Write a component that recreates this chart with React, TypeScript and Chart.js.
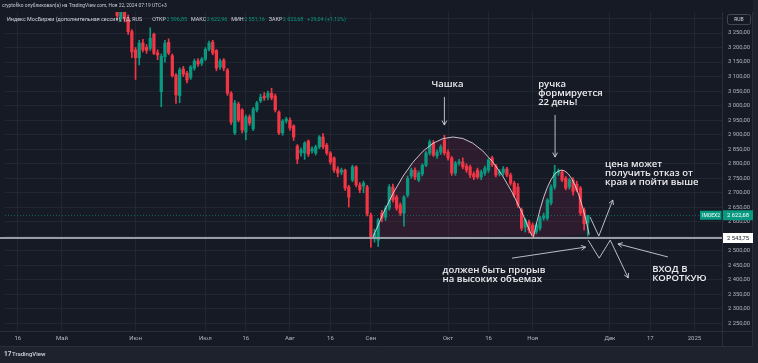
import React, { useEffect, useRef } from 'react';
import { Chart, registerables } from 'chart.js';

Chart.register(...registerables);

// ---------------- data ----------------
const START_DATE = '2024-04-11';
const BAR_COUNT = 195;
const HOLIDAYS = ['2024-05-01', '2024-05-09', '2024-05-10', '2024-06-12', '2024-11-04', '2025-01-01'];
const EXTRA_TRADING_DAYS = ['2024-04-27', '2024-11-02', '2024-12-28'];

const OPEN = [
  3440, 3448, 3433, 3440, 3425, 3430, 3455, 3448, 3475, 3470, 3460, 3450, 3462, 3470, 3478,
  3470, 3448, 3455, 3428, 3445, 3465, 3485, 3495, 3490, 3512, 3500, 3495, 3450, 3405, 3380,
  3350, 3300, 3330, 3298, 3255, 3192, 3165, 3216, 3200, 3197, 3246, 3182, 3048, 3168, 3218,
  3172, 3105, 3034, 3126, 3112, 3097, 3129, 3154, 3146, 3160, 3194, 3219, 3190, 3133, 3157,
  3123, 3043, 2906, 3005, 2985, 2909, 2961, 2920, 2985, 3016, 3033, 3029, 3043, 3033, 2978,
  2906, 2947, 2950, 2930, 2861, 2837, 2837, 2878, 2844, 2837, 2858, 2892, 2864, 2837, 2820,
  2782, 2771, 2778, 2720, 2744, 2789, 2727, 2723, 2720, 2623, 2545, 2537, 2630, 2616, 2647,
  2720, 2685, 2658, 2630, 2692, 2758, 2778, 2744, 2765, 2795, 2837, 2871, 2827, 2840, 2882,
  2840, 2820, 2768, 2802, 2806, 2792, 2789, 2765, 2778, 2754, 2768, 2778, 2820, 2792, 2765,
  2768, 2782, 2761, 2733, 2720, 2641, 2582, 2599, 2589, 2565, 2578, 2613, 2613, 2665, 2720,
  2768, 2771, 2750, 2720, 2744, 2730, 2716, 2641, 2596.85,
];
const HIGH = [
  3455, 3460, 3445, 3452, 3438, 3460, 3468, 3480, 3490, 3482, 3470, 3468, 3478, 3485, 3490,
  3475, 3460, 3462, 3450, 3470, 3490, 3500, 3510, 3520, 3520, 3515, 3500, 3455, 3415, 3390,
  3360, 3345, 3340, 3312, 3262, 3200, 3225, 3228, 3210, 3268, 3250, 3192, 3178, 3225, 3230,
  3178, 3110, 3130, 3135, 3118, 3138, 3160, 3162, 3166, 3200, 3222, 3225, 3193, 3160, 3162,
  3128, 3048, 3018, 3012, 2990, 2968, 2968, 2994, 3015, 3040, 3045, 3050, 3060, 3040, 2982,
  2952, 2960, 2958, 2934, 2866, 2855, 2876, 2882, 2858, 2864, 2897, 2904, 2870, 2842, 2824,
  2790, 2785, 2782, 2726, 2795, 2793, 2735, 2740, 2726, 2630, 2575, 2612, 2640, 2655, 2728,
  2730, 2692, 2665, 2690, 2758, 2785, 2786, 2775, 2800, 2842, 2882, 2880, 2848, 2865, 2898,
  2848, 2825, 2808, 2815, 2820, 2800, 2795, 2772, 2785, 2778, 2792, 2818, 2826, 2798, 2780,
  2790, 2788, 2768, 2740, 2732, 2648, 2612, 2606, 2596, 2595, 2620, 2630, 2680, 2727, 2795,
  2782, 2778, 2756, 2750, 2752, 2740, 2722, 2648, 2622.96,
];
const LOW = [
  3430, 3425, 3415, 3418, 3410, 3428, 3435, 3445, 3462, 3455, 3440, 3442, 3455, 3458, 3465,
  3440, 3430, 3420, 3415, 3440, 3460, 3470, 3480, 3485, 3490, 3480, 3440, 3395, 3370, 3340,
  3300, 3290, 3288, 3245, 3165, 3090, 3140, 3185, 3180, 3190, 3175, 3158, 2996, 3150, 3175,
  3098, 3008, 3010, 3100, 3078, 3090, 3122, 3135, 3138, 3155, 3188, 3175, 3120, 3125, 3120,
  3035, 2935, 2900, 2944, 2906, 2882, 2932, 2914, 2978, 3010, 3018, 3020, 3020, 2978, 2900,
  2898, 2940, 2915, 2880, 2800, 2826, 2815, 2825, 2836, 2830, 2852, 2852, 2830, 2798, 2770,
  2755, 2762, 2708, 2651, 2738, 2720, 2700, 2700, 2620, 2513, 2530, 2515, 2600, 2605, 2640,
  2668, 2640, 2622, 2585, 2685, 2750, 2745, 2738, 2758, 2790, 2830, 2825, 2818, 2832, 2830,
  2812, 2760, 2760, 2795, 2782, 2770, 2752, 2745, 2748, 2745, 2760, 2770, 2790, 2755, 2758,
  2760, 2755, 2726, 2685, 2650, 2570, 2565, 2562, 2544, 2558, 2570, 2605, 2606, 2658, 2712,
  2760, 2738, 2710, 2712, 2692, 2704, 2622, 2571, 2551.16,
];
const CLOSE = [
  3448, 3433, 3440, 3425, 3430, 3455, 3448, 3475, 3470, 3460, 3450, 3462, 3470, 3478, 3470,
  3448, 3455, 3428, 3445, 3465, 3485, 3495, 3490, 3512, 3500, 3495, 3450, 3405, 3380, 3350,
  3310, 3328, 3298, 3255, 3185, 3165, 3215, 3192, 3190, 3232, 3180, 3174, 3170, 3215, 3181,
  3103, 3037, 3123, 3109, 3088, 3133, 3153, 3143, 3160, 3194, 3215, 3181, 3129, 3153, 3129,
  3043, 2943, 3009, 2950, 2916, 2961, 2940, 2988, 3009, 3029, 3026, 3043, 3026, 2985, 2906,
  2947, 2954, 2923, 2892, 2816, 2847, 2871, 2833, 2851, 2858, 2892, 2858, 2837, 2806, 2778,
  2768, 2778, 2716, 2685, 2789, 2727, 2710, 2733, 2627, 2544, 2560, 2606, 2613, 2647, 2720,
  2675, 2647, 2630, 2685, 2750, 2778, 2754, 2768, 2795, 2837, 2875, 2830, 2840, 2858, 2837,
  2820, 2768, 2802, 2806, 2789, 2778, 2761, 2754, 2754, 2771, 2785, 2813, 2796, 2761, 2772,
  2782, 2761, 2733, 2692, 2658, 2578, 2606, 2572, 2555, 2589, 2613, 2620, 2675, 2720, 2771,
  2775, 2744, 2716, 2744, 2705, 2710, 2630, 2593.64, 2622.68,
];

const X_TICK_LABELS: [string, string][] = [
  ['2024-04-16', '16'], ['2024-05-02', 'Май'], ['2024-06-03', 'Июн'], ['2024-07-01', 'Июл'],
  ['2024-07-16', '16'], ['2024-08-01', 'Авг'], ['2024-08-16', '16'], ['2024-09-02', 'Сен'],
  ['2024-10-01', 'Окт'], ['2024-10-16', '16'], ['2024-11-01', 'Ноя'], ['2024-12-02', 'Дек'],
  ['2024-12-17', '17'], ['2025-01-02', '2025'],
];
const Y_TICKS = [2250, 2300, 2350, 2400, 2450, 2500, 2550, 2600, 2650, 2700, 2750, 2800, 2850, 2900, 2950, 3000, 3050, 3100, 3150, 3200, 3250, 3300];
const Y_HIDDEN_LABELS = [2550, 3300];
const Y_MIN = 2224.2;
const Y_MAX = 3322.3;
const LEVEL = 2543.75;

const TICKER = 'IMOEX2';
const TITLE = 'Индекс МосБиржи (дополнительная сессия), 1Д, RUS';
const HEADER = 'cryptofiko опубликовал(а) на TradingView.com, Ноя 22, 2024 07:19 UTC+3';

// annotations in (bar index, price) space
const CUP = { from: [99.6, 2548], peak: [121.3, 2892], to: [142.8, 2552] };
const HANDLE = { from: [143.2, 2546], peak: [150.8, 2778], to: [158.4, 2556] };
const ARROWS: number[][][] = [
  [[119.0, 3030], [119.0, 2933]],
  [[149.1, 2968], [149.1, 2823]],
  [[158.6, 2617], [161.0, 2551], [164.8, 2675]],
  [[158.1, 2537], [161.1, 2475], [164.1, 2537], [169.0, 2407]],
  [[137.4, 2475], [157.4, 2513]],
  [[179.8, 2479], [166.2, 2524]],
];
const NOTES: { at: number[]; lines: string[] }[] = [
  { at: [115.5, 3074], lines: ['Чашка'] },
  { at: [144.5, 3074], lines: ['ручка', 'формируется', '22 день!'] },
  { at: [162.7, 2799], lines: ['цена может', 'получить отказ от', 'края и пойти выше'] },
  { at: [118.5, 2434], lines: ['должен быть прорыв', 'на высоких объемах'] },
  { at: [175.5, 2437], lines: ['ВХОД В', 'КОРОТКУЮ'] },
];

// ---------------- style ----------------
const W = 758;
const H = 363;
const PANEL_BG = '#161a25';
const OUTER_BG = '#1e222d';
const GRID = 'rgba(42,46,57,0.6)';
const UP = '#089981';
const DOWN = '#f23645';
const TEXT = '#d1d4dc';
const AXIS_TEXT = '#b2b5be';
const FONT = 'Roboto, "Noto Sans", sans-serif';

function buildDates(): string[] {
  const out: string[] = [];
  const d = new Date(START_DATE + 'T00:00:00Z');
  while (out.length < BAR_COUNT) {
    const iso = d.toISOString().slice(0, 10);
    const dow = d.getUTCDay();
    const weekday = dow >= 1 && dow <= 5;
    if ((weekday && !HOLIDAYS.includes(iso)) || EXTRA_TRADING_DAYS.includes(iso)) out.push(iso);
    d.setUTCDate(d.getUTCDate() + 1);
  }
  return out;
}

function fmtPrice(v: number): string {
  return v.toFixed(2).replace('.', ',').replace(/\B(?=(\d{3})+(?!\d))/, ' ');
}

function arrowHead(ctx: CanvasRenderingContext2D, x0: number, y0: number, x1: number, y1: number) {
  const a = Math.atan2(y1 - y0, x1 - x0);
  const len = 5;
  const spread = 0.5;
  ctx.beginPath();
  ctx.moveTo(x1 - len * Math.cos(a - spread), y1 - len * Math.sin(a - spread));
  ctx.lineTo(x1, y1);
  ctx.lineTo(x1 - len * Math.cos(a + spread), y1 - len * Math.sin(a + spread));
  ctx.stroke();
}

export default function App() {
  const canvasRef = useRef<HTMLCanvasElement | null>(null);

  useEffect(() => {
    const canvas = canvasRef.current;
    if (!canvas) return;
    const dates = buildDates();
    const n = OPEN.length;
    const tickByIndex: Record<number, string> = {};
    X_TICK_LABELS.forEach(([d, l]) => {
      const i = dates.indexOf(d);
      if (i >= 0) tickByIndex[i] = l;
    });
    const colors = dates.map((_, i) => (i < n ? (CLOSE[i] >= OPEN[i] ? UP : DOWN) : UP));
    const bodies = dates.map((_, i) => (i < n ? [OPEN[i], CLOSE[i]] : null));
    const wicks = dates.map((_, i) => (i < n ? [LOW[i], HIGH[i]] : null));

    const px = (c: any, i: number) => c.scales.x.getPixelForValue(i);
    const py = (c: any, p: number) => c.scales.y.getPixelForValue(p);

    const arcPath = (c: any, ctx: CanvasRenderingContext2D, a: any) => {
      const cx = 2 * a.peak[0] - (a.from[0] + a.to[0]) / 2;
      const cy = 2 * a.peak[1] - (a.from[1] + a.to[1]) / 2;
      ctx.moveTo(px(c, a.from[0]), py(c, a.from[1]));
      ctx.quadraticCurveTo(px(c, cx), py(c, cy), px(c, a.to[0]), py(c, a.to[1]));
    };

    const plugin = {
      id: 'tvDecor',
      beforeDraw(c: any) {
        const ctx: CanvasRenderingContext2D = c.ctx;
        ctx.save();
        ctx.fillStyle = OUTER_BG;
        ctx.fillRect(0, 0, W, H);
        ctx.fillStyle = PANEL_BG;
        ctx.fillRect(0, 0, 753, 347);
        ctx.restore();
      },
      beforeDatasetsDraw(c: any) {
        const ctx: CanvasRenderingContext2D = c.ctx;
        const ca = c.chartArea;
        ctx.save();
        ctx.fillStyle = 'rgba(140,40,80,0.2)';
        [CUP, HANDLE].forEach((a) => {
          ctx.beginPath();
          arcPath(c, ctx, a);
          ctx.closePath();
          ctx.fill();
        });
        const yc = py(c, CLOSE[n - 1]);
        ctx.strokeStyle = 'rgba(8,153,129,0.55)';
        ctx.lineWidth = 1;
        ctx.setLineDash([1, 2]);
        ctx.beginPath();
        ctx.moveTo(ca.left, Math.round(yc) + 0.5);
        ctx.lineTo(ca.right, Math.round(yc) + 0.5);
        ctx.stroke();
        ctx.restore();
      },
      afterDatasetsDraw(c: any) {
        const ctx: CanvasRenderingContext2D = c.ctx;
        const ca = c.chartArea;
        ctx.save();
        ctx.strokeStyle = 'rgba(225,225,232,0.85)';
        ctx.lineWidth = 1;
        [CUP, HANDLE].forEach((a) => {
          ctx.beginPath();
          arcPath(c, ctx, a);
          ctx.stroke();
        });
        const yl = Math.round(py(c, LEVEL));
        ctx.strokeStyle = 'rgba(160,163,172,0.95)';
        ctx.lineWidth = 2;
        ctx.beginPath();
        ctx.moveTo(ca.left - 5, yl);
        ctx.lineTo(ca.right, yl);
        ctx.stroke();
        ctx.restore();
      },
      afterDraw(c: any) {
        const ctx: CanvasRenderingContext2D = c.ctx;
        const ca = c.chartArea;
        ctx.save();
        ctx.strokeStyle = '#2a2e39';
        ctx.lineWidth = 1;
        ctx.beginPath();
        ctx.moveTo(ca.right + 0.5, 12);
        ctx.lineTo(ca.right + 0.5, 347);
        ctx.moveTo(0, ca.bottom + 0.5);
        ctx.lineTo(753, ca.bottom + 0.5);
        ctx.moveTo(752.5, 12);
        ctx.lineTo(752.5, 347);
        ctx.moveTo(0, 346.5);
        ctx.lineTo(753, 346.5);
        ctx.stroke();

        ctx.strokeStyle = 'rgba(215,216,222,0.85)';
        ctx.lineWidth = 1;
        ARROWS.forEach((pts) => {
          const p = pts.map(([i, v]) => [px(c, i), py(c, v)]);
          ctx.beginPath();
          p.forEach(([x, y], k) => (k === 0 ? ctx.moveTo(x, y) : ctx.lineTo(x, y)));
          ctx.stroke();
          const a = p[p.length - 2];
          const b = p[p.length - 1];
          arrowHead(ctx, a[0], a[1], b[0], b[1]);
        });

        ctx.fillStyle = '#ececef';
        ctx.font = `600 9.5px "Open Sans", ${FONT}`;
        ctx.textBaseline = 'middle';
        ctx.textAlign = 'left';
        NOTES.forEach((nt) => {
          const x = px(c, nt.at[0]);
          const y = py(c, nt.at[1]);
          nt.lines.forEach((l, k) => ctx.fillText(l, x, y + k * 9.3));
        });

        const yl = Math.round(py(c, LEVEL));
        ctx.fillStyle = '#ffffff';
        ctx.fillRect(ca.right + 1, yl - 5, 30, 10);
        ctx.fillStyle = '#131722';
        ctx.font = `5.8px ${FONT}`;
        ctx.textAlign = 'center';
        ctx.fillText(fmtPrice(LEVEL), ca.right + 16, yl + 0.3);

        const yc = py(c, CLOSE[n - 1]);
        ctx.fillStyle = UP;
        ctx.fillRect(ca.right + 1, yc - 5, 30, 10);
        ctx.fillRect(ca.right - 22, yc - 4.5, 21.5, 9);
        ctx.fillStyle = '#ffffff';
        ctx.fillText(fmtPrice(CLOSE[n - 1]), ca.right + 16, yc + 0.3);
        ctx.font = `5px ${FONT}`;
        ctx.fillText(TICKER, ca.right - 11, yc + 0.3);

        ctx.strokeStyle = '#434651';
        ctx.beginPath();
        (ctx as any).roundRect(727.5, 14.5, 23, 10, 2);
        ctx.stroke();
        ctx.fillStyle = TEXT;
        ctx.font = `5px ${FONT}`;
        ctx.fillText('RUB', 739, 19.8);

        ctx.textAlign = 'left';
        ctx.fillStyle = '#c8cad0';
        ctx.font = `4.9px ${FONT}`;
        ctx.fillText(HEADER, 2, 6);

        const last = n - 1;
        const chg = CLOSE[last] - CLOSE[last - 1];
        const pct = (chg / CLOSE[last - 1]) * 100;
        const segs: [string, string, number][] = [
          [TITLE, TEXT, 10],
          ['ОТКР', TEXT, 0.5], [fmtPrice(OPEN[last]), UP, 4],
          ['МАКС', TEXT, 0.5], [fmtPrice(HIGH[last]), UP, 4],
          ['МИН', TEXT, 0.5], [fmtPrice(LOW[last]), UP, 4],
          ['ЗАКР', TEXT, 0.5], [fmtPrice(CLOSE[last]), UP, 4],
          [`${chg >= 0 ? '+' : ''}${chg.toFixed(2).replace('.', ',')} (${chg >= 0 ? '+' : ''}${pct.toFixed(2).replace('.', ',')}%)`, UP, 0],
        ];
        ctx.font = `5.4px ${FONT}`;
        let lx = 7;
        segs.forEach(([t, col, gap]) => {
          ctx.fillStyle = col;
          ctx.fillText(t, lx, 19.5);
          lx += ctx.measureText(t).width + gap;
        });

        ctx.fillStyle = TEXT;
        ctx.font = `bold 6.5px ${FONT}`;
        ctx.fillText('17', 4, 354.5);
        ctx.font = `500 6px ${FONT}`;
        ctx.fillText('TradingView', 12, 354.5);
        ctx.restore();
      },
    };

    const chart = new Chart(canvas, {
      type: 'bar',
      data: {
        labels: dates,
        datasets: [
          {
            label: 'body',
            data: bodies as any,
            backgroundColor: colors,
            barThickness: 2.6,
            grouped: false,
            order: 0,
            minBarLength: 1,
            borderWidth: 0,
            clip: 0,
          } as any,
          {
            label: 'wick',
            data: wicks as any,
            backgroundColor: colors,
            barThickness: 1,
            grouped: false,
            order: 1,
            borderWidth: 0,
            clip: 0,
          } as any,
        ],
      },
      options: {
        animation: false,
        responsive: false,
        devicePixelRatio: 1,
        events: [],
        layout: { padding: { left: 5, top: 12, right: 0, bottom: 16 } },
        plugins: { legend: { display: false }, tooltip: { enabled: false } },
        scales: {
          x: {
            type: 'category',
            offset: true,
            grid: {
              offset: false,
              drawTicks: false,
              color: (ctx: any) => (tickByIndex[ctx.index] ? GRID : 'rgba(0,0,0,0)'),
            },
            border: { display: false },
            ticks: {
              autoSkip: false,
              maxRotation: 0,
              minRotation: 0,
              padding: 4,
              color: AXIS_TEXT,
              font: { size: 6, family: FONT },
              callback: (_v: any, i: number) => tickByIndex[i] ?? '',
            },
            afterFit: (s: any) => {
              s.height = 16;
            },
          },
          y: {
            position: 'right',
            min: Y_MIN,
            max: Y_MAX,
            grid: { drawTicks: false, color: GRID },
            border: { display: false },
            afterBuildTicks: (s: any) => {
              s.ticks = Y_TICKS.map((v) => ({ value: v }));
            },
            ticks: {
              padding: 6,
              color: AXIS_TEXT,
              font: { size: 5.8, family: FONT },
              callback: (v: any) => (Y_HIDDEN_LABELS.includes(v) ? '' : fmtPrice(Number(v))),
            },
            afterFit: (s: any) => {
              s.width = 36;
            },
          },
        },
      } as any,
      plugins: [plugin],
    });
    return () => chart.destroy();
  }, []);

  return (
    <div style={{ position: 'fixed', left: 0, top: 0, width: W, height: H, background: PANEL_BG }}>
      <canvas ref={canvasRef} width={W} height={H} style={{ display: 'block', width: W, height: H }} />
    </div>
  );
}
